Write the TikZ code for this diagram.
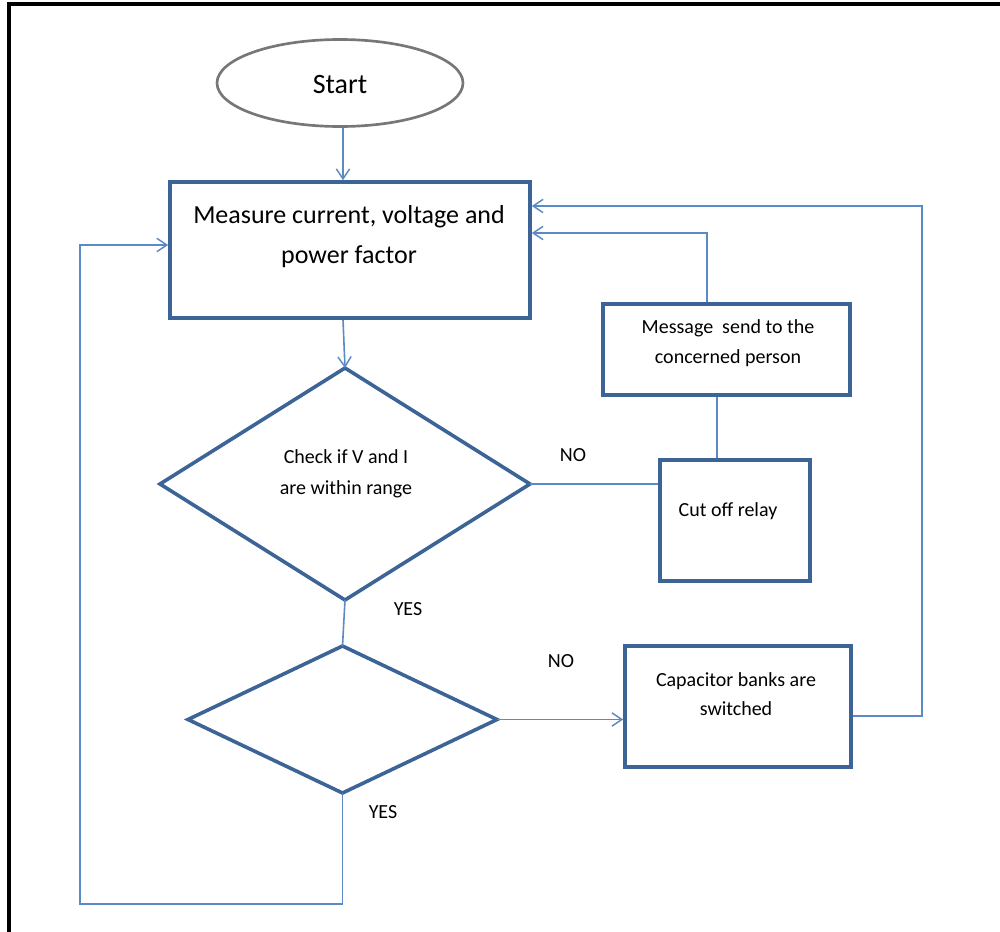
\documentclass[tikz,border=0pt]{standalone}
\usepackage{fontspec}
\setmainfont{Carlito}
\usetikzlibrary{shapes.geometric,arrows.meta}
\definecolor{boxblue}{HTML}{3D6496}
\definecolor{lineblue}{HTML}{5B8BC6}
\definecolor{ovalgray}{HTML}{777777}
\tikzset{
  px/.style={x=0.75pt,y=-0.75pt},
  boxnode/.style={draw=boxblue,line width=2.7pt,rectangle,inner sep=0pt},
  diam/.style={draw=boxblue,line width=2.7pt,diamond,inner sep=0pt,outer sep=0pt},
  conn/.style={draw=lineblue,line width=1.2pt},
  arr/.style={conn,-{Straight Barb[length=7.5pt,width=10pt,line width=1.1pt]}},
  txt/.style={align=center,inner sep=0pt,font=\fontsize{15pt}{22pt}\selectfont},
  lbl/.style={inner sep=0pt,font=\fontsize{15pt}{18pt}\selectfont}
}
\begin{document}
\begin{tikzpicture}[px]
\useasboundingbox (0,0) rectangle (1000,932);
% frame
\draw[line width=2.4pt] (1000,4) -- (9,4) -- (9,932);
% nodes
\node[ellipse,draw=ovalgray,line width=2pt,minimum width={246*0.75pt},minimum height={87*0.75pt},inner sep=0pt] (start) at (340,83) {};
\node[inner sep=0pt,font=\fontsize{21pt}{25pt}\selectfont] (starttxt) at (340,85) {Start};
\node[boxnode,minimum width={360*0.75pt},minimum height={136*0.75pt}] (main) at (350,250) {};
\node[txt,font=\fontsize{19.5pt}{30pt}\selectfont] (maintxt) at (349,237) {Measure current, voltage and\\power factor};
\node[diam,minimum width={370*0.75pt},minimum height={232*0.75pt}] (d1) at (345,484) {};
\node[txt,font=\fontsize{15pt}{23pt}\selectfont] (d1txt) at (346,474) {Check if V and I\\are within range};
\node[diam,minimum width={309*0.75pt},minimum height={147*0.75pt}] (d2) at (342.5,719.5) {};
\node[boxnode,minimum width={247*0.75pt},minimum height={91*0.75pt}] (msg) at (726.5,349.5) {};
\node[txt] (msgtxt) at (728,343) {Message\ \ send to the\\concerned person};
\node[boxnode,minimum width={150*0.75pt},minimum height={121*0.75pt}] (cut) at (735,520.5) {};
\node[txt] (cuttxt) at (728,511) {Cut off relay};
\node[boxnode,minimum width={226*0.75pt},minimum height={121*0.75pt}] (cap) at (738,706.5) {};
\node[txt] (captxt) at (736,694) {Capacitor banks are\\switched};
% labels
\node[lbl] (no1) at (573,455) {NO};
\node[lbl] (yes1) at (408,609) {YES};
\node[lbl] (no2) at (561,661) {NO};
\node[lbl] (yes2) at (383,812) {YES};
% helper coordinates
\coordinate (mtop) at (343,0);
\coordinate (cutup) at (717,0);
\coordinate (msgup) at (707,0);
\coordinate (fb1) at (0,233);
\coordinate (fb2) at (0,206);
\coordinate (fb3) at (0,245);
\coordinate (rx) at (922,0);
\coordinate (by) at (0,904);
\coordinate (lx) at (80,0);
% connectors
\draw[arr] (start.south -| mtop) -- (main.north -| mtop);
\draw[arr] (main.south -| mtop) -- (d1.north);
\draw[conn] (d1.east) -- (d1.east -| cut.west);
\draw[conn] (cut.north -| cutup) -- (msg.south -| cutup);
\draw[arr] (msg.north -| msgup) -- (msgup |- fb1) -- (main.east |- fb1);
\draw[conn] (d1.south) -- (d2.north);
\draw[arr] (d2.east) -- (d2.east -| cap.west);
\draw[arr] (cap.east |- 0,716) -- (rx |- 0,716) -- (rx |- fb2) -- (main.east |- fb2);
\draw[arr] (d2.south) -- (d2.south |- by) -- (lx |- by) -- (lx |- fb3) -- (main.west |- fb3);
\end{tikzpicture}
\end{document}
